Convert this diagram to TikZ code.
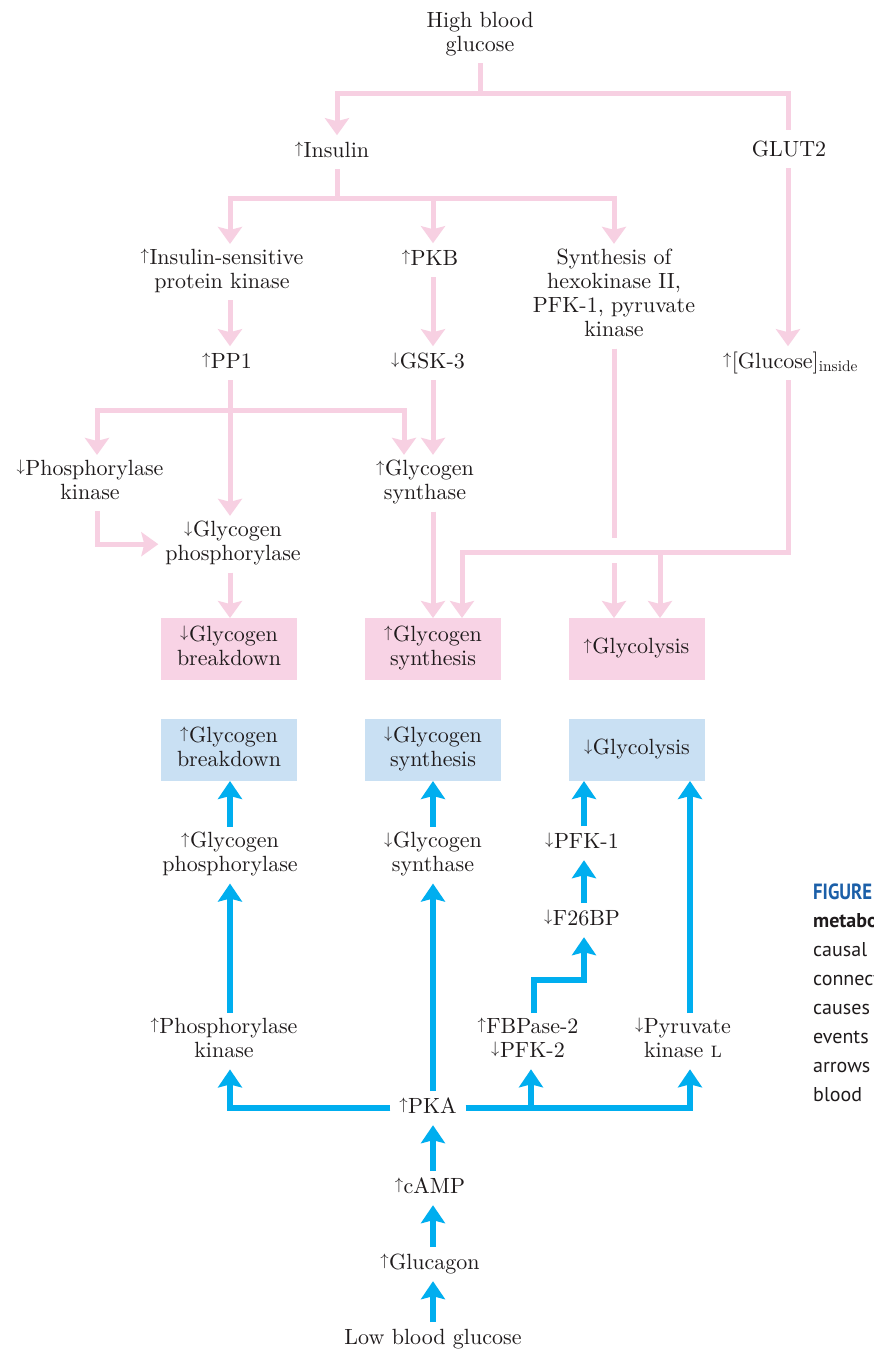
\documentclass[tikz,border=0pt]{standalone}
\usepackage{fontspec}
\setmainfont{lmroman10-regular.otf}[BoldFont=lmroman10-bold.otf, ItalicFont=lmroman10-italic.otf, SmallCapsFont=lmromancaps10-regular.otf]
\newfontfamily\capfont{PT Sans}
\usetikzlibrary{arrows.meta,calc}
\definecolor{pinkc}{HTML}{F7D0E2}
\definecolor{pinkbox}{HTML}{F8D3E5}
\definecolor{bluec}{HTML}{00AEEF}
\definecolor{bluebox}{HTML}{C9E0F3}
\definecolor{textc}{HTML}{1F1B1C}
\definecolor{capblue}{HTML}{1B5FA8}
\newcommand{\myup}{\raisebox{0.15em}{\scalebox{0.8}{$\uparrow$}}\kern0.5pt}
\newcommand{\mydn}{\raisebox{0.15em}{\scalebox{0.8}{$\downarrow$}}\kern0.5pt}
\begin{document}
\begin{tikzpicture}[x=1pt,y=-1pt,
  txt/.style={align=center, inner sep=0pt, outer xsep=0pt, outer ysep=5pt,
    text=textc, font=\fontsize{22}{24}\selectfont,
    execute at begin node=\strut, execute at end node=\strut},
  bx/.style={minimum width=136pt, minimum height=62pt, inner sep=0pt, outer sep=0pt,
    align=center, text=textc, font=\fontsize{22}{24}\selectfont,
    execute at begin node=\strut, execute at end node=\strut},
  pbox/.style={bx, fill=pinkbox},
  bbox/.style={bx, fill=bluebox},
  pl/.style={draw=pinkc, line width=5pt, line join=miter},
  pa/.style={pl, -{Stealth[length=17pt,width=24pt,inset=3pt]}},
  bl/.style={draw=bluec, line width=6pt, line join=miter},
  ba/.style={bl, -{Stealth[length=18pt,width=24pt,inset=3pt]}},
  captext/.style={inner sep=0pt, text=textc, font=\capfont\fontsize{20}{28}\selectfont}
]
\useasboundingbox (0,0) rectangle (873,1349);
\fill[white] (0,0) rectangle (873,1349);

% ---------- insulin (pink) side ----------
\node[txt] (hbg) at (480,35.2) {High blood\\glucose};
\node[txt] (ins) at (332,152.2) {\myup Insulin};
\node[txt] (glut) at (789,151.2) {GLUT2};
\node[txt] (ispk) at (222,272.2) {\myup Insulin-sensitive\\protein kinase};
\node[txt] (pkb) at (430,260.2) {\myup PKB};
\node[txt] (syn) at (614,296.2) {Synthesis of\\hexokinase II,\\PFK-1, pyruvate\\kinase};
\node[txt] (pp1) at (227,363.2) {\myup PP1};
\node[txt] (gsk) at (428,363.2) {\mydn GSK-3};
\node[txt, anchor=west] (glcin) at (723,363.2) {\myup[Glucose]\textsubscript{inside}};
\node[txt] (phk) at (90,483.2) {\mydn Phosphorylase\\kinase};
\node[txt] (gs1) at (425,483.2) {\myup Glycogen\\synthase};
\node[txt] (gp1) at (233,544.2) {\mydn Glycogen\\phosphorylase};

\node[pbox] (bx1) at (229,649) {\mydn Glycogen\\breakdown};
\node[pbox] (bx2) at (433,649) {\myup Glycogen\\synthesis};
\node[pbox] (bx3) at (636.5,649) {\myup Glycolysis};

\coordinate (j1) at (480,93);
\coordinate (j2) at (337,198);
\coordinate (j3) at (433,198);
\coordinate (j4) at (230,410);
\coordinate (g1) at (614,538);
\coordinate (g2) at (614,563);
\coordinate (c1) at (462,552);
\coordinate (c2) at (660,552);

\draw[pl] (hbg.south) -- (j1);
\draw[pa] (j1) -| (337,0 |- ins.north);
\draw[pl] (j1) -| (788,130);
\draw[pl] (337,0 |- ins.south) -- (j2);
\draw[pa] (j2) -| (230,0 |- ispk.north);
\draw[pa] (j2) -| (614,0 |- syn.north);
\draw[pa] (j3) -- (433,0 |- pkb.north);
\draw[pa] (230,0 |- ispk.south) -- (230,0 |- pp1.north);
\draw[pa] (433,0 |- pkb.south) -- (433,0 |- gsk.north);
\draw[pa] (788,0 |- glut.south) -- (788,0 |- glcin.north);
\draw[pa] (230,0 |- pp1.south) -- (230,0 |- gp1.north);
\draw[pa] (j4) -| (97,0 |- phk.north);
\draw[pa] (j4) -| (404,0 |- gs1.north);
\draw[pa] (433,0 |- gsk.south) -- (433,0 |- gs1.north);
\draw[pa, shorten >=7pt] (97,0 |- phk.south) |- (gp1.west);
\draw[pa] (230,0 |- gp1.south) -- (230,0 |- bx1.north);
\draw[pa] (433,0 |- gs1.south) -- (433,0 |- bx2.north);
\draw[pl] (614,0 |- syn.south) -- (g1);
\draw[pa] (g2) -- (614,0 |- bx3.north);
\draw[pa] (788,0 |- glcin.south) |- (c1) -- (462,0 |- bx2.north);
\draw[pa] (c2) -- (660,0 |- bx3.north);

% ---------- glucagon (blue) side ----------
\node[bbox] (bx4) at (229,750) {\myup Glycogen\\breakdown};
\node[bbox] (bx5) at (433,750) {\mydn Glycogen\\synthesis};
\node[bbox] (bx6) at (637,750) {\mydn Glycolysis};

\node[txt] (gp2) at (230,855.2) {\myup Glycogen\\phosphorylase};
\node[txt] (gs2) at (433,855.2) {\mydn Glycogen\\synthase};
\node[txt] (pfk1) at (582,843.2) {\mydn PFK-1};
\node[txt] (f26) at (582,920.2) {\mydn F26BP};
\node[txt] (phk2) at (224,1041.2) {\myup Phosphorylase\\kinase};
\node[txt] (fbp) at (528,1041.2) {\myup FBPase-2\\\mydn PFK-2};
\node[txt] (pyk) at (683,1041.2) {\mydn Pyruvate\\kinase \textsc{l}};
\node[txt] (pka) at (428,1108.2) {\myup PKA};
\node[txt] (camp) at (430,1188.2) {\myup cAMP};
\node[txt] (glcg) at (430,1264.2) {\myup Glucagon};
\node[txt] (lbg) at (433,1339.2) {Low blood glucose};

\coordinate (k1) at (584,980);

\draw[ba] (230,0 |- gp2.north) -- (230,0 |- bx4.south);
\draw[ba] (230,0 |- phk2.north) -- (230,0 |- gp2.south);
\draw[ba, shorten <=9pt] (pka.west) -| (230,0 |- phk2.south);
\draw[ba, shorten <=9pt] (pka.east) -| (690,0 |- pyk.south);
\draw[ba] (531,0 |- pka.east) -- (531,0 |- fbp.south);
\draw[ba] (433,0 |- pka.north) -- (433,0 |- gs2.south);
\draw[ba] (433,0 |- gs2.north) -- (433,0 |- bx5.south);
\draw[ba] (584,0 |- pfk1.north) -- (584,0 |- bx6.south);
\draw[ba] (584,0 |- f26.north) -- (584,0 |- pfk1.south);
\draw[ba] (534,0 |- fbp.north) |- (k1) -- (584,0 |- f26.south);
\draw[ba] (690,0 |- pyk.north) -- (690,0 |- bx6.south);
\draw[ba] (433,0 |- camp.north) -- (433,0 |- pka.south);
\draw[ba] (433,0 |- glcg.north) -- (433,0 |- camp.south);
\draw[ba] (433,0 |- lbg.north) -- (433,0 |- glcg.south);

% ---------- caption, cut off at the right edge as in the reference ----------
\begin{scope}
\clip (0,0) rectangle (873,1349);
\node[captext, anchor=base west, text=capblue] (cp1) at (813,899) {\bfseries\fontsize{22}{28}\selectfont\scalebox{0.85}[1]{FIGURE}};
\node[captext, anchor=base west] (cp2) at (813,927) {\bfseries metabol};
\node[captext, anchor=base west] (cp3) at (813,956) {causal};
\node[captext, anchor=base west] (cp4) at (813,985) {connect};
\node[captext, anchor=base west] (cp5) at (813,1014) {causes};
\node[captext, anchor=base west] (cp6) at (813,1043) {events};
\node[captext, anchor=base west] (cp7) at (813,1072) {arrows};
\node[captext, anchor=base west] (cp8) at (813,1101) {blood};
\end{scope}
\end{tikzpicture}
\end{document}
